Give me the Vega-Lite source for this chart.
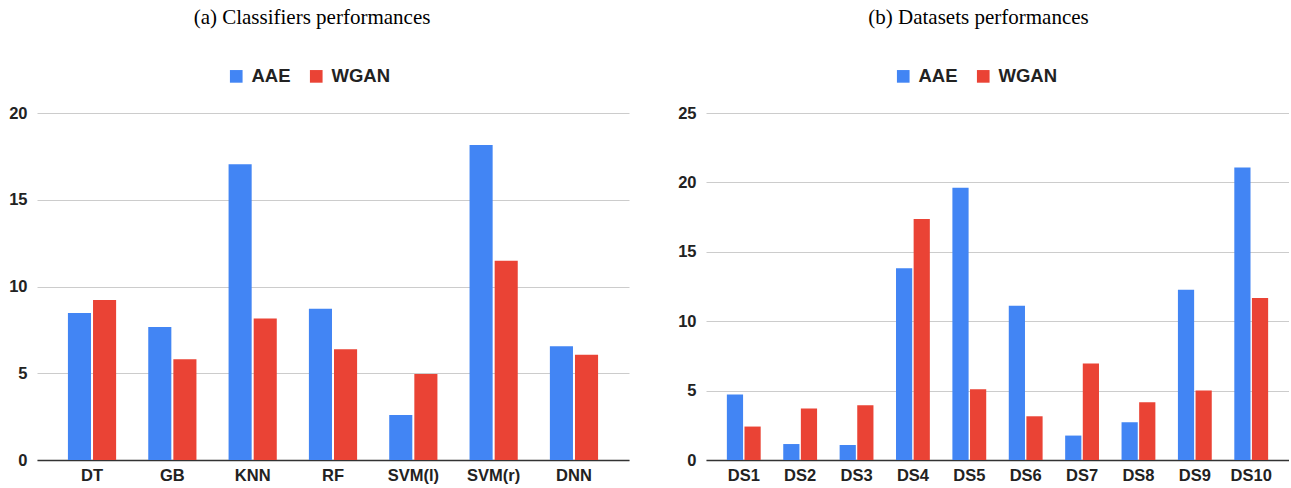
{
  "$schema": "https://vega.github.io/schema/vega-lite/v6.json",
  "padding": {"left": 8, "top": 7, "right": 0, "bottom": 0},
  "background": "white",
  "spacing": 48,
  "datasets": {
    "classifiers": [
      {"category": "DT", "series": "AAE", "value": 8.47},
      {"category": "DT", "series": "WGAN", "value": 9.22},
      {"category": "GB", "series": "AAE", "value": 7.66},
      {"category": "GB", "series": "WGAN", "value": 5.81},
      {"category": "KNN", "series": "AAE", "value": 17.05},
      {"category": "KNN", "series": "WGAN", "value": 8.16},
      {"category": "RF", "series": "AAE", "value": 8.72},
      {"category": "RF", "series": "WGAN", "value": 6.39},
      {"category": "SVM(l)", "series": "AAE", "value": 2.6},
      {"category": "SVM(l)", "series": "WGAN", "value": 4.95},
      {"category": "SVM(r)", "series": "AAE", "value": 18.15},
      {"category": "SVM(r)", "series": "WGAN", "value": 11.49},
      {"category": "DNN", "series": "AAE", "value": 6.56},
      {"category": "DNN", "series": "WGAN", "value": 6.06}
    ],
    "datasets": [
      {"category": "DS1", "series": "AAE", "value": 4.72},
      {"category": "DS1", "series": "WGAN", "value": 2.41},
      {"category": "DS2", "series": "AAE", "value": 1.15},
      {"category": "DS2", "series": "WGAN", "value": 3.71},
      {"category": "DS3", "series": "AAE", "value": 1.08},
      {"category": "DS3", "series": "WGAN", "value": 3.95},
      {"category": "DS4", "series": "AAE", "value": 13.81},
      {"category": "DS4", "series": "WGAN", "value": 17.37},
      {"category": "DS5", "series": "AAE", "value": 19.61},
      {"category": "DS5", "series": "WGAN", "value": 5.1},
      {"category": "DS6", "series": "AAE", "value": 11.12},
      {"category": "DS6", "series": "WGAN", "value": 3.15},
      {"category": "DS7", "series": "AAE", "value": 1.76},
      {"category": "DS7", "series": "WGAN", "value": 6.95},
      {"category": "DS8", "series": "AAE", "value": 2.72},
      {"category": "DS8", "series": "WGAN", "value": 4.16},
      {"category": "DS9", "series": "AAE", "value": 12.27},
      {"category": "DS9", "series": "WGAN", "value": 5.0},
      {"category": "DS10", "series": "AAE", "value": 21.08},
      {"category": "DS10", "series": "WGAN", "value": 11.67}
    ]
  },
  "config": {
    "view": {"stroke": null},
    "font": "Liberation Sans",
    "title": {"font": "Liberation Serif", "fontSize": 21, "fontWeight": "normal", "color": "#000", "anchor": "middle", "offset": 39},
    "axis": {"labelFont": "Liberation Sans", "labelFontSize": 16.5, "labelFontWeight": "bold", "labelColor": "#222", "ticks": false, "title": null},
    "legend": {"orient": "none", "direction": "horizontal", "symbolType": "square", "symbolSize": 160, "symbolStrokeWidth": 0, "labelFont": "Liberation Sans", "labelFontSize": 18.5, "labelFontWeight": "bold", "labelColor": "#222", "columnPadding": 16, "labelOffset": 6, "title": null}
  },
  "resolve": {"legend": {"color": "independent"}, "scale": {"xOffset": "independent", "x": "independent", "y": "independent"}},
  "hconcat": [
    {
      "data": {"name": "classifiers"},
      "width": 592,
      "height": 347,
      "title": {"text": "(a) Classifiers performances", "dx": -21},
      "mark": {"type": "bar"},
      "encoding": {
        "x": {"field": "category", "type": "nominal", "sort": null, "scale": {"paddingInner": 0.4, "paddingOuter": 0.385}, "axis": {"labelAngle": 0, "domainColor": "#333", "domainWidth": 1.5, "labelPadding": 7, "grid": false}},
        "xOffset": {"field": "series", "type": "nominal", "scale": {"paddingInner": 0.08}},
        "y": {"field": "value", "type": "quantitative", "scale": {"domain": [0, 20]}, "axis": {"values": [0, 5, 10, 15, 20], "domain": false, "gridColor": "#cccccc", "labelPadding": 10}},
        "color": {"field": "series", "type": "nominal", "scale": {"domain": ["AAE", "WGAN"], "range": ["#4285F4", "#EA4335"]}, "legend": {"legendX": 190, "legendY": -46}}
      }
    },
    {
      "data": {"name": "datasets"},
      "width": 583,
      "height": 347,
      "title": {"text": "(b) Datasets performances", "dx": -19},
      "mark": {"type": "bar"},
      "encoding": {
        "x": {"field": "category", "type": "nominal", "sort": null, "scale": {"paddingInner": 0.4, "paddingOuter": 0.37}, "axis": {"labelAngle": 0, "domainColor": "#333", "domainWidth": 1.5, "labelPadding": 7, "grid": false}},
        "xOffset": {"field": "series", "type": "nominal", "scale": {"paddingInner": 0.08}},
        "y": {"field": "value", "type": "quantitative", "scale": {"domain": [0, 25]}, "axis": {"values": [0, 5, 10, 15, 20, 25], "domain": false, "gridColor": "#cccccc", "labelPadding": 10}},
        "color": {"field": "series", "type": "nominal", "scale": {"domain": ["AAE", "WGAN"], "range": ["#4285F4", "#EA4335"]}, "legend": {"legendX": 188, "legendY": -46}}
      }
    }
  ]
}
